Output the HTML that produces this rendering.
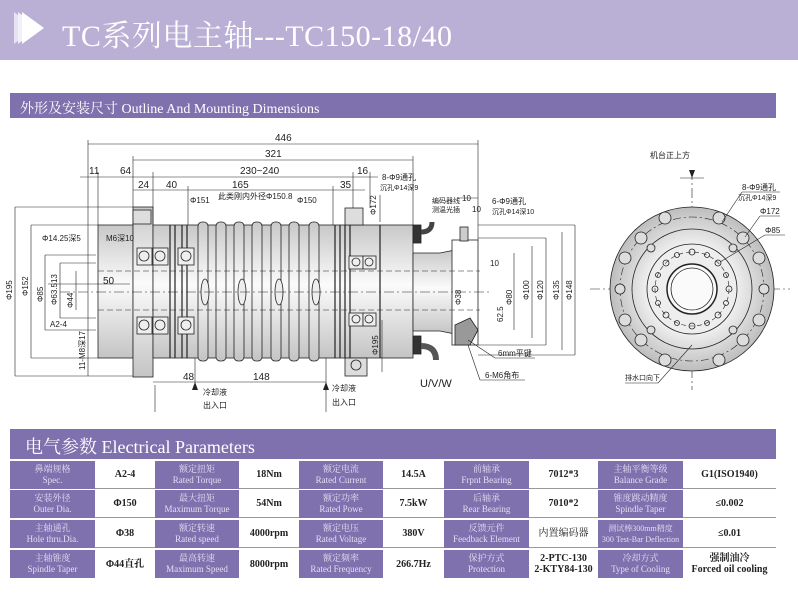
<!DOCTYPE html>
<html><head><meta charset="utf-8"><style>
*{margin:0;padding:0;box-sizing:border-box}
body{width:798px;height:600px;background:#fff;position:relative;overflow:hidden;font-family:"Liberation Serif","Noto Serif CJK SC",serif}
.hdr{position:absolute;left:0;top:0;width:798px;height:60px;background:#bab0d6}
.hdr .t{position:absolute;left:62px;top:11px;font-size:30px;color:#fff;font-family:"Liberation Serif","Noto Serif CJK SC",serif;letter-spacing:0.5px}
.bar{position:absolute;left:10px;background:#7f70ae;color:#fff}
.bar1{top:93px;width:766px;height:25px;font-size:14px;padding:5px 0 0 10px}
.bar2{top:429px;width:766px;height:30px;font-size:18px;padding:4px 0 0 15px}
.c{position:absolute;height:28px;text-align:center;font-size:9px;line-height:11px;display:flex;flex-direction:column;justify-content:center}
.l{background:#7f70ae;color:#e4def2}
.v{color:#222;font-weight:bold;font-size:10px;border-bottom:1px solid #999}
svg{position:absolute;left:0;top:0}
</style></head><body>
<div class="hdr">
<svg width="60" height="60" style="left:0;top:0"><polygon points="14,12 34,28 14,44" fill="#e8e3f2"/><polygon points="18,12 38,28 18,44" fill="#f2eff8"/><polygon points="22,12 44,28 22,44" fill="#fff"/></svg>
<div class="t">TC系列电主轴---TC150-18/40</div></div>
<div class="bar bar1">外形及安装尺寸 Outline And Mounting Dimensions</div>
<div class="bar bar2">电气参数 Electrical Parameters</div>

<svg width="798" height="430" viewBox="0 0 798 430" font-family="Liberation Sans, Noto Sans CJK SC, sans-serif" font-size="9" fill="none" stroke="#222" stroke-width="0.8">
<defs><linearGradient id="g" x1="0" y1="0" x2="0" y2="1"><stop offset="0" stop-color="#c8c8c8"/><stop offset="0.45" stop-color="#fbfbfb"/><stop offset="1" stop-color="#c4c4c4"/></linearGradient>
<radialGradient id="rg"><stop offset="0.5" stop-color="#f4f4f4"/><stop offset="1" stop-color="#bdbdbd"/></radialGradient></defs>
<rect x="98" y="225" width="35" height="133" fill="url(#g)"/>
<rect x="133" y="207" width="20" height="170" fill="url(#g)"/>
<rect x="153" y="225" width="260" height="133" fill="url(#g)"/>
<g fill="url(#g)">
<rect x="198" y="222" width="10" height="139" rx="4"/><rect x="216" y="222" width="10" height="139" rx="4"/><rect x="234" y="222" width="10" height="139" rx="4"/><rect x="252" y="222" width="10" height="139" rx="4"/><rect x="271" y="222" width="10" height="139" rx="4"/><rect x="289" y="222" width="10" height="139" rx="4"/><rect x="309" y="222" width="10" height="139" rx="4"/></g>
<g stroke-width="1.2"><line x1="170" y1="225" x2="170" y2="358"/><line x1="175" y1="225" x2="175" y2="358"/><line x1="182" y1="225" x2="182" y2="358"/><line x1="187" y1="225" x2="187" y2="358"/><line x1="335" y1="225" x2="335" y2="358"/><line x1="340" y1="225" x2="340" y2="358"/><line x1="345" y1="225" x2="345" y2="358"/><line x1="350" y1="225" x2="350" y2="358"/><line x1="380" y1="225" x2="380" y2="358"/></g>
<rect x="345" y="358" width="22" height="18" fill="#ddd"/><circle cx="356" cy="365" r="5"/>
<rect x="345" y="208" width="18" height="17" fill="#ddd"/><rect x="133" y="210" width="18" height="14" fill="#ddd"/>
<g fill="#eee"><rect x="137" y="248" width="15" height="17"/><rect x="153" y="248" width="15" height="17"/><rect x="178" y="248" width="16" height="17"/><rect x="137" y="317" width="15" height="17"/><rect x="153" y="317" width="15" height="17"/><rect x="178" y="317" width="16" height="17"/><rect x="349" y="256" width="14" height="13"/><rect x="363" y="256" width="13" height="13"/><rect x="349" y="313" width="14" height="13"/><rect x="363" y="313" width="13" height="13"/></g>
<g><circle cx="144" cy="256" r="5"/><circle cx="160" cy="256" r="5"/><circle cx="186" cy="256" r="5"/><circle cx="144" cy="325" r="5"/><circle cx="160" cy="325" r="5"/><circle cx="186" cy="325" r="5"/><circle cx="356" cy="262" r="4"/><circle cx="369" cy="262" r="4"/><circle cx="356" cy="319" r="4"/><circle cx="369" cy="319" r="4"/></g>
<g fill="#eee"><ellipse cx="205" cy="292" rx="4" ry="13"/><ellipse cx="242" cy="292" rx="4" ry="13"/><ellipse cx="279" cy="292" rx="4" ry="13"/><ellipse cx="316" cy="292" rx="4" ry="13"/></g>
<path d="M413 253 L440 253 L455 250 L455 334 L440 331 L413 331 Z" fill="url(#g)"/>
<rect x="452" y="240" width="26" height="105" fill="#fff"/><rect x="460" y="227" width="8" height="14" fill="#ccc"/>
<path d="M455 325 L470 318 L478 330 L470 345 L455 345 Z" fill="#999"/>
<rect x="413" y="225" width="8" height="18" fill="#333"/><rect x="413" y="336" width="8" height="18" fill="#333"/>
<path d="M421 232 Q432 232 432 222" stroke="#444" stroke-width="5"/><path d="M421 346 Q436 346 436 360" stroke="#555" stroke-width="6"/>
<g stroke-dasharray="10,3,2,3" stroke-width="0.6"><line x1="60" y1="292" x2="490" y2="292"/><line x1="590" y1="289" x2="790" y2="289"/><line x1="692" y1="170" x2="692" y2="390"/></g>
<g stroke-dasharray="6,3" stroke-width="0.6"><line x1="98" y1="271" x2="480" y2="271"/><line x1="98" y1="310" x2="480" y2="310"/></g>
<g stroke-width="0.6">
<line x1="88" y1="144" x2="478" y2="144"/><line x1="88" y1="140" x2="88" y2="376"/><line x1="478" y1="140" x2="478" y2="240"/>
<line x1="133" y1="160" x2="413" y2="160"/><line x1="133" y1="156" x2="133" y2="207"/><line x1="413" y1="156" x2="413" y2="225"/>
<line x1="80" y1="177" x2="378" y2="177"/><line x1="98" y1="172" x2="98" y2="225"/><line x1="153" y1="172" x2="153" y2="225"/><line x1="353" y1="172" x2="353" y2="208"/><line x1="370" y1="172" x2="370" y2="208"/>
<line x1="133" y1="190" x2="365" y2="190"/><line x1="188" y1="186" x2="188" y2="225"/><line x1="333" y1="186" x2="333" y2="225"/>
<line x1="153" y1="382" x2="326" y2="382"/><line x1="195" y1="358" x2="195" y2="386"/><line x1="326" y1="358" x2="326" y2="386"/>
<line x1="15" y1="207" x2="15" y2="376"/><line x1="15" y1="207" x2="133" y2="207"/><line x1="15" y1="376" x2="133" y2="376"/>
<line x1="31" y1="225" x2="31" y2="358"/><line x1="31" y1="225" x2="98" y2="225"/><line x1="31" y1="358" x2="98" y2="358"/>
<line x1="45" y1="255" x2="45" y2="330"/><line x1="45" y1="255" x2="96" y2="255"/><line x1="45" y1="330" x2="96" y2="330"/>
<line x1="60" y1="263" x2="60" y2="318"/><line x1="60" y1="263" x2="96" y2="263"/><line x1="60" y1="318" x2="96" y2="318"/>
<line x1="76" y1="271" x2="76" y2="310"/><line x1="48" y1="284" x2="130" y2="284"/>
<line x1="380" y1="195" x2="380" y2="222"/><line x1="382" y1="320" x2="382" y2="372"/>
<line x1="514" y1="253" x2="514" y2="330"/><line x1="532" y1="246" x2="532" y2="338"/><line x1="546" y1="238" x2="546" y2="345"/><line x1="562" y1="232" x2="562" y2="350"/><line x1="575" y1="225" x2="575" y2="355"/>
<line x1="478" y1="225" x2="575" y2="225"/><line x1="478" y1="355" x2="575" y2="355"/><line x1="478" y1="238" x2="546" y2="238"/><line x1="478" y1="345" x2="546" y2="345"/>
<line x1="458" y1="198" x2="478" y2="198"/>
<line x1="155" y1="385" x2="155" y2="412"/><line x1="326" y1="385" x2="326" y2="412"/>
<line x1="468" y1="340" x2="495" y2="358"/><line x1="495" y1="358" x2="535" y2="358"/><line x1="468" y1="345" x2="480" y2="380"/><line x1="480" y1="380" x2="525" y2="380"/>
</g>
<g fill="#222" stroke="none" font-size="10">
<text x="275" y="141">446</text><text x="265" y="157">321</text><text x="240" y="174">230~240</text><text x="89" y="174">11</text><text x="120" y="174">64</text><text x="357" y="174">16</text>
<text x="138" y="188">24</text><text x="166" y="188">40</text><text x="232" y="188">165</text><text x="340" y="188">35</text>
<text x="190" y="203" font-size="8">Φ151</text><text x="218" y="199" font-size="8">此类刚内外径Φ150.8</text><text x="297" y="203" font-size="8">Φ150</text>
<text x="382" y="180" font-size="8">8-Φ9通孔</text><text x="380" y="190" font-size="7">沉孔Φ14深9</text>
<text x="42" y="241" font-size="8">Φ14.25深5</text><text x="106" y="241" font-size="8">M6深10</text><text x="103" y="284">50</text>
<text x="50" y="327" font-size="8">A2-4</text><text x="183" y="380">48</text><text x="253" y="380">148</text>
<text x="203" y="395" font-size="8">冷却液</text><text x="203" y="408" font-size="8">出入口</text><text x="332" y="391" font-size="8">冷却液</text><text x="332" y="405" font-size="8">出入口</text>
<text x="420" y="387" font-size="11">U/V/W</text><text x="432" y="203" font-size="7">编码器线</text><text x="432" y="212" font-size="7">测温光插</text>
<text x="462" y="201" font-size="8">10</text><text x="472" y="212" font-size="8">10</text><text x="492" y="204" font-size="8">6-Φ9通孔</text><text x="492" y="214" font-size="7">沉孔Φ14深10</text>
<text x="490" y="266" font-size="8">10</text><text x="498" y="356" font-size="8">6mm平键</text><text x="485" y="378" font-size="8">6-M6角布</text>
<text x="650" y="158" font-size="8">机台正上方</text><text x="742" y="190" font-size="8">8-Φ9通孔</text><text x="738" y="200" font-size="7">沉孔Φ14深9</text><text x="760" y="214" font-size="8">Φ172</text><text x="765" y="233" font-size="8">Φ85</text><text x="625" y="380" font-size="7">排水口向下</text>
<g font-size="8"><text transform="translate(12,300) rotate(-90)">Φ195</text><text transform="translate(28,296) rotate(-90)">Φ152</text><text transform="translate(43,302) rotate(-90)">Φ85</text><text transform="translate(57,305) rotate(-90)">Φ63.513</text><text transform="translate(73,308) rotate(-90)">Φ44</text><text transform="translate(85,370) rotate(-90)">11-M8深17</text>
<text transform="translate(376,215) rotate(-90)">Φ172</text><text transform="translate(378,355) rotate(-90)">Φ195</text><text transform="translate(461,305) rotate(-90)">Φ38</text><text transform="translate(512,305) rotate(-90)">Φ80</text><text transform="translate(503,322) rotate(-90)">62.5</text>
<text transform="translate(529,300) rotate(-90)">Φ100</text><text transform="translate(543,300) rotate(-90)">Φ120</text><text transform="translate(559,300) rotate(-90)">Φ135</text><text transform="translate(572,300) rotate(-90)">Φ148</text></g>
<polygon points="192,390 195,382 198,390"/><polygon points="323,390 326,382 329,390"/><polygon points="689,170 695,170 692,178"/>
</g>
<circle cx="692" cy="289" r="82" fill="url(#rg)"/>
<circle cx="692" cy="289" r="72" stroke-dasharray="8,3,2,3" stroke-width="0.6"/>
<circle cx="692" cy="289" r="60"/><circle cx="692" cy="289" r="45" fill="#eee"/><circle cx="692" cy="289" r="37" stroke-dasharray="5,3" stroke-width="0.6"/>
<circle cx="692" cy="289" r="25" stroke-width="1.5" fill="#fafafa"/><circle cx="692" cy="289" r="21"/>
<g fill="#ddd"><circle cx="620" cy="289" r="5"/><circle cx="764" cy="289" r="5"/><circle cx="641" cy="238" r="6"/><circle cx="743" cy="238" r="6"/><circle cx="641" cy="340" r="6"/><circle cx="743" cy="340" r="6"/><circle cx="665" cy="218" r="6"/><circle cx="719" cy="218" r="6"/><circle cx="665" cy="360" r="6"/><circle cx="719" cy="360" r="6"/><circle cx="625" cy="258" r="6"/><circle cx="759" cy="258" r="6"/><circle cx="625" cy="320" r="6"/><circle cx="759" cy="320" r="6"/>
<circle cx="651" cy="248" r="4"/><circle cx="733" cy="248" r="4"/><circle cx="651" cy="330" r="4"/><circle cx="733" cy="330" r="4"/></g>
<g><circle cx="692" cy="252" r="3"/><circle cx="692" cy="326" r="3"/><circle cx="655" cy="289" r="3"/><circle cx="729" cy="289" r="3"/><circle cx="666" cy="263" r="3"/><circle cx="718" cy="263" r="3"/><circle cx="666" cy="315" r="3"/><circle cx="718" cy="315" r="3"/><circle cx="677" cy="255" r="2.5"/><circle cx="707" cy="255" r="2.5"/><circle cx="677" cy="323" r="2.5"/><circle cx="707" cy="323" r="2.5"/><circle cx="658" cy="275" r="2.5"/><circle cx="726" cy="275" r="2.5"/><circle cx="658" cy="303" r="2.5"/><circle cx="726" cy="303" r="2.5"/></g>
<g stroke-width="0.6"><line x1="722" y1="222" x2="742" y2="192"/><line x1="742" y1="192" x2="780" y2="192"/><line x1="745" y1="237" x2="760" y2="216"/><line x1="760" y1="216" x2="780" y2="216"/><line x1="720" y1="262" x2="765" y2="235"/><line x1="765" y1="235" x2="785" y2="235"/><line x1="692" y1="345" x2="658" y2="383"/><line x1="625" y1="383" x2="658" y2="383"/><line x1="680" y1="178" x2="704" y2="178"/></g>
</svg>

<div class="c l" style="left:10px;top:461px;width:85px">鼻端规格<br>Spec.</div><div class="c v" style="left:95px;top:461px;width:60px">A2-4</div>
<div class="c l" style="left:155px;top:461px;width:84px">额定扭矩<br>Rated Torque</div><div class="c v" style="left:239px;top:461px;width:60px">18Nm</div>
<div class="c l" style="left:299px;top:461px;width:84px">额定电流<br>Rated Current</div><div class="c v" style="left:383px;top:461px;width:61px">14.5A</div>
<div class="c l" style="left:444px;top:461px;width:85px">前轴承<br>Frpnt Bearing</div><div class="c v" style="left:529px;top:461px;width:69px">7012*3</div>
<div class="c l" style="left:598px;top:461px;width:85px">主轴平衡等级<br>Balance Grade</div><div class="c v" style="left:683px;top:461px;width:93px">G1(ISO1940)</div>

<div class="c l" style="left:10px;top:490px;width:85px">安装外径<br>Outer Dia.</div><div class="c v" style="left:95px;top:490px;width:60px">Φ150</div>
<div class="c l" style="left:155px;top:490px;width:84px">最大扭矩<br>Maximum Torque</div><div class="c v" style="left:239px;top:490px;width:60px">54Nm</div>
<div class="c l" style="left:299px;top:490px;width:84px">额定功率<br>Rated Powe</div><div class="c v" style="left:383px;top:490px;width:61px">7.5kW</div>
<div class="c l" style="left:444px;top:490px;width:85px">后轴承<br>Rear Bearing</div><div class="c v" style="left:529px;top:490px;width:69px">7010*2</div>
<div class="c l" style="left:598px;top:490px;width:85px">锥度跳动精度<br>Spindle Taper</div><div class="c v" style="left:683px;top:490px;width:93px">≤0.002</div>

<div class="c l" style="left:10px;top:520px;width:85px">主轴通孔<br>Hole thru.Dia.</div><div class="c v" style="left:95px;top:520px;width:60px">Φ38</div>
<div class="c l" style="left:155px;top:520px;width:84px">额定转速<br>Rated speed</div><div class="c v" style="left:239px;top:520px;width:60px">4000rpm</div>
<div class="c l" style="left:299px;top:520px;width:84px">额定电压<br>Rated Voltage</div><div class="c v" style="left:383px;top:520px;width:61px">380V</div>
<div class="c l" style="left:444px;top:520px;width:85px">反馈元件<br>Feedback Element</div><div class="c v" style="left:529px;top:520px;width:69px;font-weight:normal">内置编码器</div>
<div class="c l" style="left:598px;top:520px;width:85px;font-size:8px">测试棒300mm精度<br>300 Test-Bar Deflection</div><div class="c v" style="left:683px;top:520px;width:93px">≤0.01</div>

<div class="c l" style="left:10px;top:550px;width:85px">主轴锥度<br>Spindle Taper</div><div class="c v" style="left:95px;top:550px;width:60px;border:none">Φ44直孔</div>
<div class="c l" style="left:155px;top:550px;width:84px">最高转速<br>Maximum Speed</div><div class="c v" style="left:239px;top:550px;width:60px;border:none">8000rpm</div>
<div class="c l" style="left:299px;top:550px;width:84px">额定频率<br>Rated Frequency</div><div class="c v" style="left:383px;top:550px;width:61px;border:none">266.7Hz</div>
<div class="c l" style="left:444px;top:550px;width:85px">保护方式<br>Protection</div><div class="c v" style="left:529px;top:550px;width:69px;border:none">2-PTC-130<br>2-KTY84-130</div>
<div class="c l" style="left:598px;top:550px;width:85px">冷却方式<br>Type of Cooling</div><div class="c v" style="left:683px;top:550px;width:93px;border:none">强制油冷<br>Forced oil cooling</div>
</body></html>
